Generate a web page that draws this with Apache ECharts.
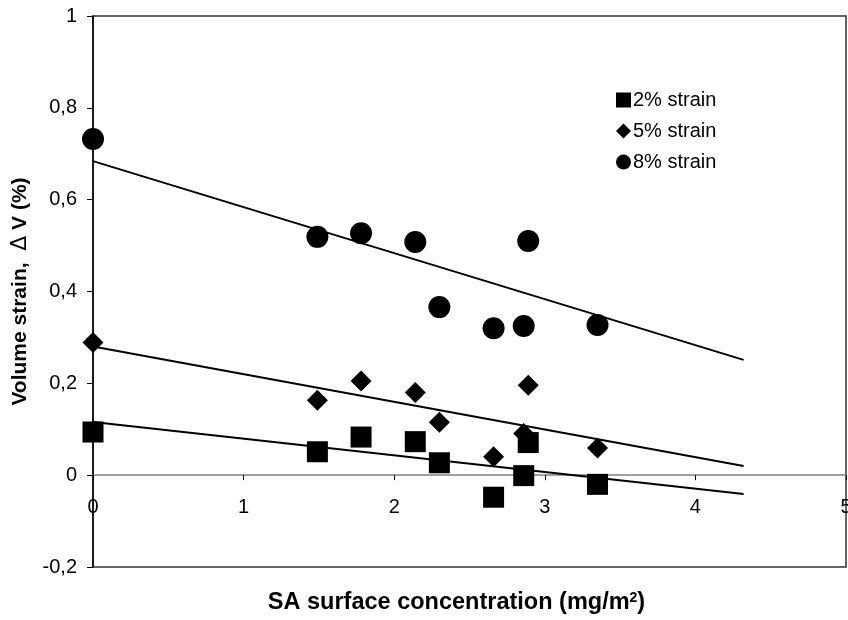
<!DOCTYPE html>
<html>
<head>
<meta charset="utf-8">
<script src="https://cdn.jsdelivr.net/npm/echarts@6/dist/echarts.min.js"></script>
<style>
  html, body { margin: 0; padding: 0; background: #fff; }
  #chart { width: 848px; height: 620px; }
</style>
</head>
<body>
<div id="chart"></div>
<script>
// SA surface concentration (mg/m2) for each specimen
const concentration = [0, 1.49, 1.78, 2.14, 2.30, 2.66, 2.86, 2.89, 3.35];

// Volume strain ΔV (%) at three axial strain levels
const strain2 = [0.094, 0.051, 0.083, 0.073, 0.027, -0.048, -0.001, 0.071, -0.020];
const strain5 = [0.289, 0.163, 0.205, 0.180, 0.115, 0.040, 0.091, 0.196, 0.059];
const strain8 = [0.732, 0.519, 0.527, 0.508, 0.366, 0.320, 0.325, 0.510, 0.327];

// Linear trend lines: end points along the concentration axis
const trendX = [0, 4.32];
const trend2 = [0.116, -0.041];
const trend5 = [0.280, 0.020];
const trend8 = [0.684, 0.251];

const seriesNames = ['2% strain', '5% strain', '8% strain'];
const xTicks = [0, 1, 2, 3, 4, 5];
const yTicks = [-0.2, 0, 0.2, 0.4, 0.6, 0.8, 1];

const FONT = '"Liberation Sans", Arial, Helvetica, sans-serif';

function pairs(xs, ys) {
  return xs.map((x, i) => [x, ys[i]]);
}

function scatter(name, ys, symbol, size) {
  return {
    name: name,
    type: 'scatter',
    data: pairs(concentration, ys),
    symbol: symbol,
    symbolSize: size,
    itemStyle: { color: '#000', opacity: 1 },
    z: 3
  };
}

function trend(ys) {
  return {
    type: 'line',
    data: pairs(trendX, ys),
    symbol: 'none',
    lineStyle: { color: '#000', width: 2 },
    silent: true,
    z: 2
  };
}

const chart = echarts.init(document.getElementById('chart'), null, { renderer: 'canvas' });

chart.setOption({
  animation: false,
  backgroundColor: '#fff',
  textStyle: { fontFamily: FONT },
  grid: {
    left: 93, right: 2, top: 16, bottom: 53,
    containLabel: false,
    outerBoundsMode: 'none',
    show: true,
    borderColor: '#333',
    borderWidth: 1.5,
    backgroundColor: 'transparent'
  },
  legend: {
    orient: 'vertical',
    left: 611,
    top: 85,
    itemWidth: 15,
    itemHeight: 15,
    itemGap: 11,
    data: [
      { name: seriesNames[0], icon: 'rect' },
      { name: seriesNames[1], icon: 'diamond' },
      { name: seriesNames[2], icon: 'circle' }
    ],
    itemStyle: { opacity: 1, color: '#000' },
    textStyle: { fontSize: 20, color: '#000', fontFamily: FONT, padding: [0, 0, 0, -3] }
  },
  xAxis: {
    type: 'value',
    min: xTicks[0],
    max: xTicks[xTicks.length - 1],
    interval: 1,
    axisLine: { show: true, onZero: true, lineStyle: { color: '#808080', width: 1.5 } },
    axisTick: { show: true, inside: false, length: 5, lineStyle: { color: '#000', width: 1 } },
    // tick labels sit just below the zero line
    axisLabel: { fontSize: 20, color: '#000', margin: -70, fontFamily: FONT },
    splitLine: { show: false },
    name: 'SA surface concentration (mg/m{sup|2})',
    nameLocation: 'middle',
    nameGap: 24,
    nameTextStyle: {
      fontSize: 23.5, fontWeight: 'bold', color: '#000', fontFamily: FONT,
      padding: [0, 26, 0, 0],
      rich: {
        sup: { fontSize: 14, fontWeight: 'bold', verticalAlign: 'top', padding: [0, 0, 10, 0], fontFamily: FONT }
      }
    }
  },
  yAxis: {
    type: 'value',
    min: yTicks[0],
    max: yTicks[yTicks.length - 1],
    interval: 0.2,
    axisLine: { show: true, onZero: false, lineStyle: { color: '#000', width: 1.5 } },
    axisTick: { show: true, inside: false, length: 6, lineStyle: { color: '#000', width: 1 } },
    axisLabel: {
      fontSize: 20, color: '#000', margin: 16, fontFamily: FONT,
      formatter: v => {
        const r = Math.round(v * 10) / 10;
        return String(r).replace('.', ',');
      }
    },
    splitLine: { show: false },
    name: 'Volume strain,  {d|\u0394} V (%)',
    nameLocation: 'middle',
    nameGap: 56,
    nameTextStyle: {
      fontSize: 21, fontWeight: 'bold', color: '#000', fontFamily: FONT,
      rich: {
        d: { fontSize: 22, fontWeight: 'normal', fontFamily: '"DejaVu Sans", sans-serif' }
      }
    }
  },
  series: [
    trend(trend2),
    trend(trend5),
    trend(trend8),
    scatter(seriesNames[0], strain2, 'rect', 21),
    scatter(seriesNames[1], strain5, 'diamond', 21),
    scatter(seriesNames[2], strain8, 'circle', 22)
  ]
});
</script>
</body>
</html>
